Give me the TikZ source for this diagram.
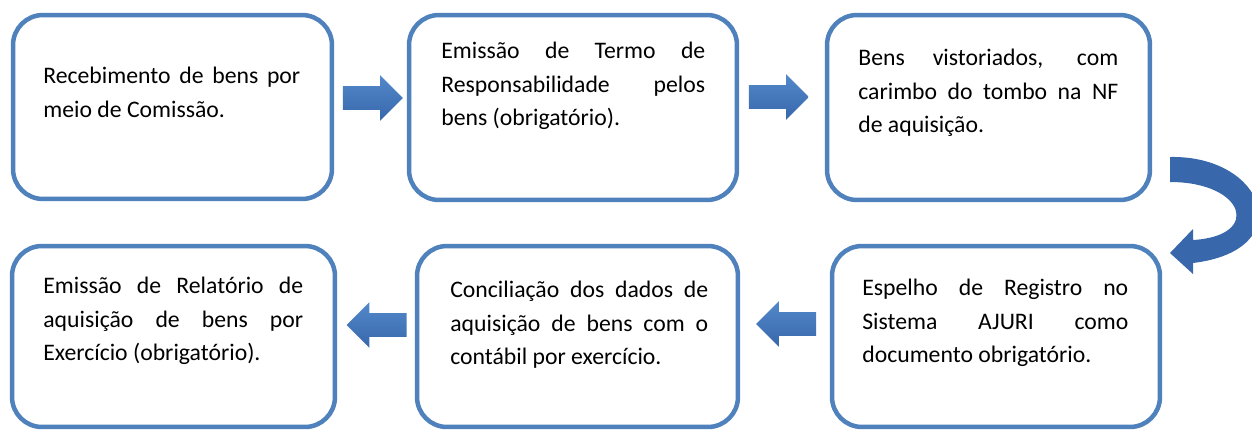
\documentclass[tikz,border=0pt]{standalone}
\usepackage{fontspec}
\setmainfont{Carlito}
\usetikzlibrary{shapes.arrows}

\definecolor{borda}{HTML}{4F81BD}
\definecolor{setaclara}{HTML}{5289CB}
\definecolor{setaescura}{HTML}{3867AB}

\tikzset{
  caixa/.style={draw=borda, line width=0.09cm, rounded corners=0.6cm, fill=white},
  texto/.style={anchor=north west, inner sep=0pt, align=justify, font=\fontsize{13.5}{19}\selectfont},
  seta/.style={single arrow, minimum height=1.2cm, minimum width=0.9cm, single arrow head extend=0.22cm,
    inner xsep=0pt, inner ysep=0.23cm, top color=setaclara, bottom color=setaescura, draw=none}
}

\begin{document}
\begin{tikzpicture}[x=0.02cm,y=-0.02cm]
\useasboundingbox (0,0) rectangle (1252,430);
\clip (0,0) rectangle (1252,430);

% caixas de cima
\node[caixa, minimum width=6.38cm, minimum height=3.68cm] (c1) at (172.5,107) {};
\node[caixa, minimum width=6.56cm, minimum height=3.7cm] (c2) at (573,107.5) {};
\node[caixa, minimum width=6.46cm, minimum height=3.7cm] (c3) at (988.5,107.5) {};
% caixas de baixo
\node[caixa, minimum width=6.46cm, minimum height=3.62cm] (c4) at (173.5,336.5) {};
\node[caixa, minimum width=6.42cm, minimum height=3.62cm] (c5) at (577.5,336.5) {};
\node[caixa, minimum width=6.56cm, minimum height=3.62cm] (c6) at (996,336.5) {};

% textos
\node[texto, text width=5.14cm] (t1) at (43,60) {\strut Recebimento de bens por\linebreak meio de Comissão.};
\node[texto, text width=5.28cm] (t2) at (441,35) {\strut Emissão de Termo de\linebreak Responsabilidade pelos\linebreak bens (obrigatório).};
\node[texto, text width=5.2cm] (t3) at (858,42) {\strut Bens vistoriados, com\linebreak carimbo do tombo na NF\linebreak de aquisição.};
\node[texto, text width=5.2cm] (t4) at (43,270) {\strut Emissão de Relatório de\linebreak aquisição de bens por\linebreak Exercício (obrigatório).};
\node[texto, text width=5.16cm] (t5) at (450,274) {\strut Conciliação dos dados de\linebreak aquisição de bens com o\linebreak contábil por exercício.};
\node[texto, text width=5.32cm] (t6) at (862,272) {\strut Espelho de Registro no\linebreak Sistema AJURI como\linebreak documento obrigatório.};

% setas
\node[seta] (s1) at (367,98) {};
\node[seta] (s2) at (773,97) {};
\node[seta, shape border rotate=180] (s3) at (382.5,325) {};
\node[seta, shape border rotate=180] (s4) at (792,324) {};

% seta curva
\fill[setaescura] (1170,157) .. controls (1265,155) and (1300,250) .. (1193,263)
  -- (1193,274) -- (1170,253) -- (1193,229) -- (1193,240)
  .. controls (1262,236) and (1245,182) .. (1170,182) -- cycle;
\end{tikzpicture}
\end{document}
